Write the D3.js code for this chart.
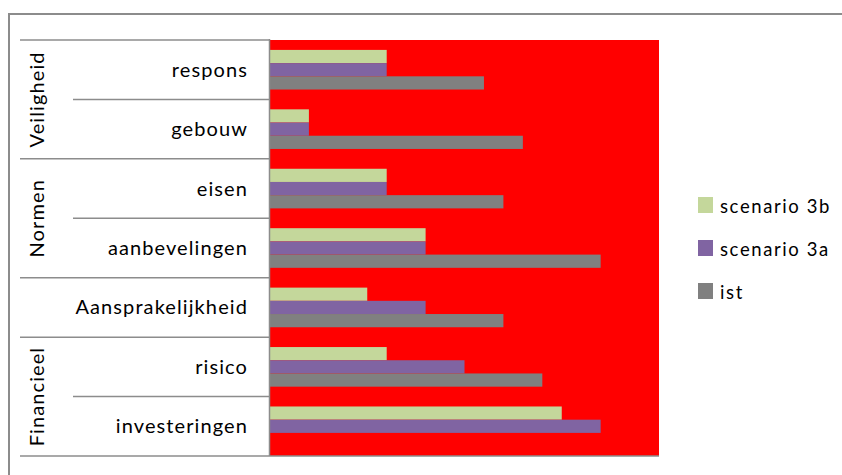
<!DOCTYPE html>
<html>
<head>
<meta charset="utf-8">
<script src="https://cdn.jsdelivr.net/npm/d3@7"></script>
<style>
  html, body { margin: 0; padding: 0; background: #fff; }
  svg { display: block; }
  text { font-family: Lato, "Open Sans", sans-serif; fill: #000; }
</style>
</head>
<body>
<svg id="chart" width="842" height="475"></svg>
<script>
// Categories, top to bottom, with the group each one belongs to
const categories = ["respons", "gebouw", "eisen", "aanbevelingen", "Aansprakelijkheid", "risico", "investeringen"];
const groups = ["Veiligheid", "Veiligheid", "Normen", "Normen", "", "Financieel", "Financieel"];

// Series, in the order they appear inside each category band and in the legend
const seriesNames = ["scenario 3b", "scenario 3a", "ist"];
const seriesColors = ["#C4D79B", "#8064A2", "#808080"];
const scenario3b = [3, 1, 3, 4, 2.5, 3, 7.5];
const scenario3a = [3, 1, 3, 4, 4, 5, 8.5];
const ist = [5.5, 6.5, 6, 8.5, 6, 7, 0];
const seriesValues = [scenario3b, scenario3a, ist];

const xMax = 10;

const svg = d3.select("#chart");
const lineColor = "#8c8c8c";

const plot = { left: 270, right: 659, top: 40, bottom: 456 };
const labelLeft = 20, subLabelLeft = 73, catLabelRight = 248, groupLabelX = 37;

// Outer frame
svg.append("path")
  .attr("d", `M9,475 L9,14 L842,14`)
  .attr("fill", "none").attr("stroke", lineColor).attr("stroke-width", 2);

const x = d3.scaleLinear().domain([0, xMax]).range([plot.left, plot.right]);
const y0 = d3.scaleBand().domain(categories).range([plot.top, plot.bottom]).padding(0);
const y1 = d3.scaleBand().domain(seriesNames).range([0, y0.bandwidth()])
  .paddingInner(0).paddingOuter(0.75);

// Plot background
svg.append("rect")
  .attr("x", plot.left).attr("y", plot.top)
  .attr("width", plot.right - plot.left).attr("height", plot.bottom - plot.top)
  .attr("fill", "#FF0000");

// Bars
const rows = [];
categories.forEach((c, i) => {
  seriesNames.forEach((s, j) => {
    rows.push({ cat: c, series: s, value: seriesValues[j][i], color: seriesColors[j] });
  });
});
svg.append("g").selectAll("rect")
  .data(rows.filter(d => d.value > 0))
  .join("rect")
  .attr("x", x(0))
  .attr("y", d => y0(d.cat) + y1(d.series))
  .attr("width", d => x(d.value) - x(0))
  .attr("height", y1.bandwidth())
  .attr("fill", d => d.color);

// Category axis: separator lines for categories and groups
const axisG = svg.append("g").attr("stroke", lineColor).attr("stroke-width", 1.5).attr("fill", "none");
axisG.append("line")
  .attr("x1", labelLeft).attr("x2", plot.left).attr("y1", plot.top).attr("y2", plot.top);
categories.forEach((c, i) => {
  const yb = y0(c) + y0.bandwidth();
  const groupEnds = i === categories.length - 1 || groups[i + 1] !== groups[i] || groups[i] === "";
  axisG.append("line")
    .attr("x1", groupEnds ? labelLeft : subLabelLeft).attr("x2", plot.left)
    .attr("y1", yb).attr("y2", yb);
});
axisG.append("line")
  .attr("x1", plot.left - 0.5).attr("x2", plot.left - 0.5)
  .attr("y1", plot.top - 1).attr("y2", plot.bottom);
axisG.append("line")
  .attr("x1", plot.left).attr("x2", plot.right)
  .attr("y1", plot.bottom).attr("y2", plot.bottom);

// Category labels
svg.append("g").selectAll("text")
  .data(categories)
  .join("text")
  .attr("x", catLabelRight)
  .attr("y", d => y0(d) + y0.bandwidth() / 2 + 7)
  .attr("text-anchor", "end")
  .attr("font-size", 20)
  .attr("letter-spacing", 1.1)
  .text(d => d);

// Group labels, rotated, centred on their categories
const groupSpans = [];
groups.forEach((g, i) => {
  if (!g) return;
  const last = groupSpans[groupSpans.length - 1];
  if (last && last.name === g) last.end = i;
  else groupSpans.push({ name: g, start: i, end: i });
});
svg.append("g").selectAll("text")
  .data(groupSpans)
  .join("text")
  .attr("transform", d => {
    const yc = (y0(categories[d.start]) + y0(categories[d.end]) + y0.bandwidth()) / 2;
    return `translate(${groupLabelX},${yc}) rotate(-90)`;
  })
  .attr("dy", "0.35em")
  .attr("text-anchor", "middle")
  .attr("font-size", 20)
  .attr("letter-spacing", 1.1)
  .text(d => d.name);

// Legend
const legend = svg.append("g").attr("transform", "translate(698,197)");
const item = legend.selectAll("g")
  .data(seriesNames)
  .join("g")
  .attr("transform", (d, i) => `translate(0,${i * 43})`);
item.append("rect")
  .attr("width", 15).attr("height", 16)
  .attr("fill", (d, i) => seriesColors[i]);
item.append("text")
  .attr("x", 22).attr("y", 16)
  .attr("font-size", 18.5)
  .attr("letter-spacing", 1.6)
  .text(d => d);
</script>
</body>
</html>
